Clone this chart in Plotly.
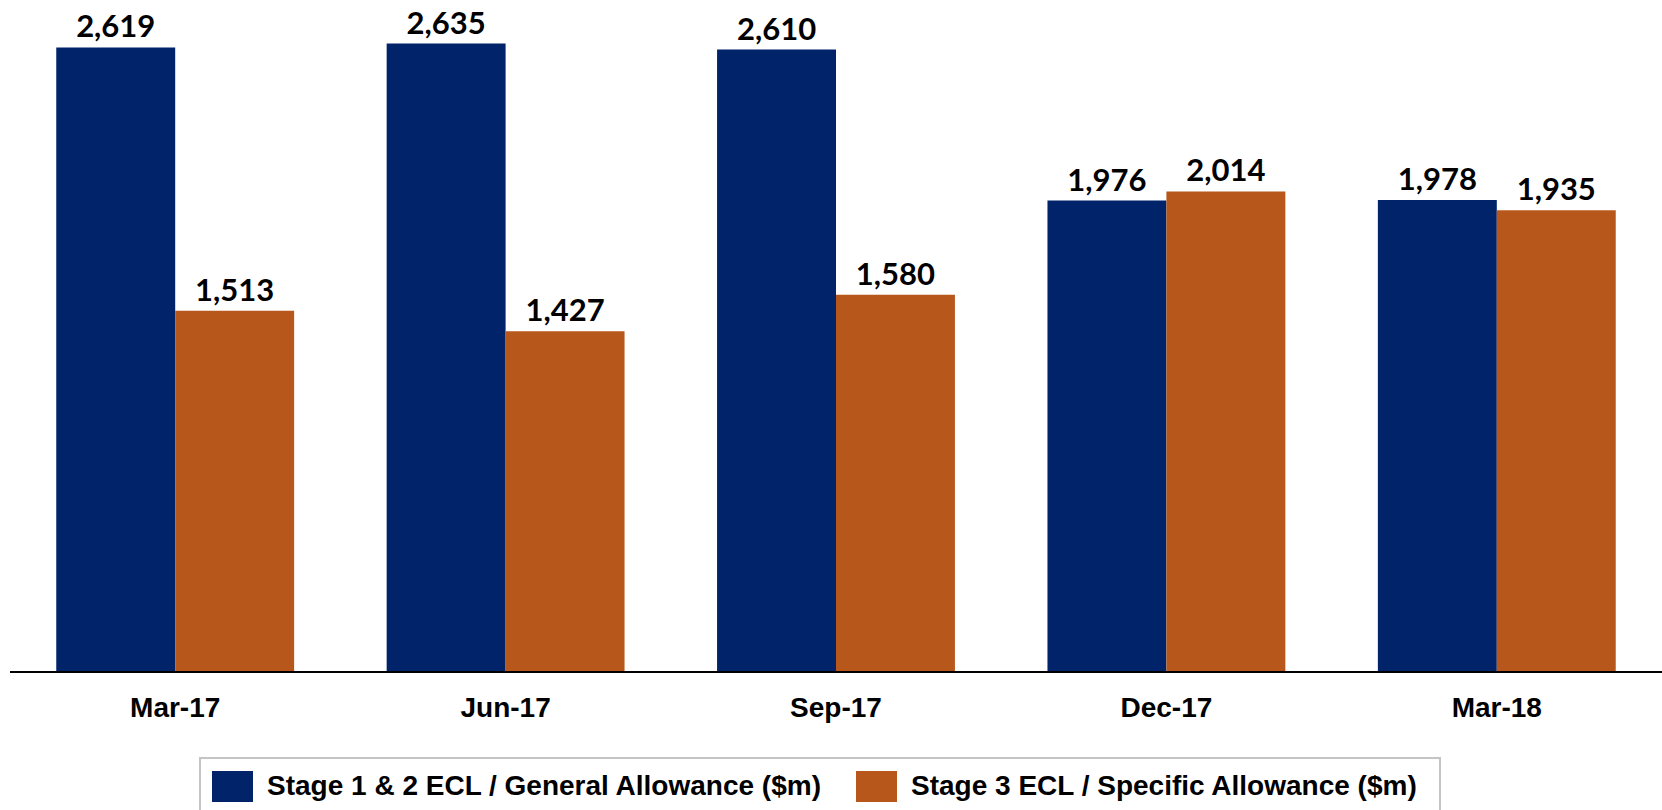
import plotly.graph_objects as go

categories = ["Mar-17", "Jun-17", "Sep-17", "Dec-17", "Mar-18"]
stage12 = [2619, 2635, 2610, 1976, 1978]
stage3 = [1513, 1427, 1580, 2014, 1935]
series_names = ["Stage 1 & 2 ECL / General Allowance ($m)",
                "Stage 3 ECL / Specific Allowance ($m)"]
colors = ["#00236A", "#B8571B"]

W, H = 1662, 810
ML, MR, MT = 10, 0, 0
AXIS_Y = 671
MB = H - AXIS_Y
PW, PH = W - ML - MR, H - MT - MB

def px(x):
    return (x - ML) / PW

def py(y):
    return (AXIS_Y - y) / PH

fig = go.Figure()
for name, vals, col in zip(series_names, [stage12, stage3], colors):
    fig.add_trace(go.Bar(
        x=categories, y=vals, name=name, marker_color=col,
        marker_line_width=0,
        text=[f"{v:,}" for v in vals], textposition="outside",
        textfont=dict(family="Lato", size=31, color="black", weight="bold"),
        cliponaxis=False, showlegend=False,
    ))

# manual legend
shapes = [dict(type="rect", xref="paper", yref="paper",
               x0=px(200), x1=px(1440), y0=py(758), y1=py(840),
               line=dict(color="#C4C4C4", width=2), fillcolor="white", layer="below")]
sw = [(212, 253), (856, 897)]
tx = [265, 909]
annotations = []
for (a, b), t, name, col in zip(sw, tx, series_names, colors):
    shapes.append(dict(type="rect", xref="paper", yref="paper",
                       x0=px(a), x1=px(b), y0=py(771), y1=py(802),
                       line=dict(width=0), fillcolor=col))
    annotations.append(dict(text=name, xref="paper", yref="paper",
                            x=px(t), y=py(785), xanchor="left", yanchor="middle",
                            showarrow=False,
                            font=dict(family="Arial, Liberation Sans", size=28,
                                      color="black", weight="bold")))

fig.update_layout(
    width=W, height=H,
    margin=dict(l=ML, r=MR, t=MT, b=MB, pad=0),
    plot_bgcolor="white", paper_bgcolor="white",
    barmode="group", bargap=0.28, bargroupgap=0,
    showlegend=False,
    shapes=shapes, annotations=annotations,
    xaxis=dict(showline=True, linecolor="black", linewidth=2, ticks="",
               showgrid=False, range=[-0.5, 4.5],
               tickfont=dict(family="Arial, Liberation Sans", size=28,
                             color="black", weight="bold"),
               ticklabelstandoff=10),
    yaxis=dict(visible=False, range=[0, (AXIS_Y - MT) / 0.2381], showgrid=False),
)

fig.write_html("out.html",
               config={"displayModeBar": False},
               post_script="document.body.style.margin='0';document.body.style.overflow='hidden';")
